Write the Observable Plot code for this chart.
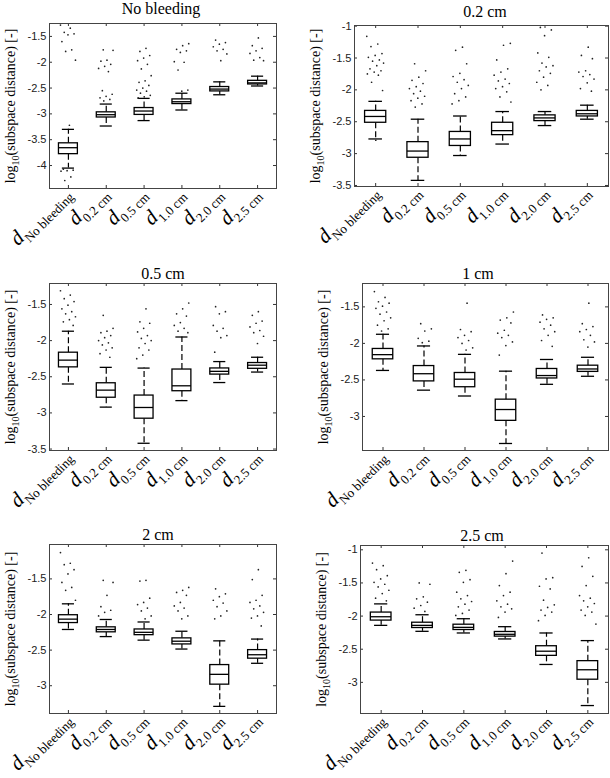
<!DOCTYPE html>
<html><head><meta charset="utf-8">
<script src="https://cdn.jsdelivr.net/npm/d3@7"></script>
<script src="https://cdn.jsdelivr.net/npm/@observablehq/plot@0.6"></script>
<style>
body{margin:0;background:#fff;}
#wrap{position:relative;width:610px;height:778px;overflow:hidden;background:#fff;}
.title{position:absolute;font-family:"Liberation Serif","Times New Roman",serif;font-weight:normal;font-size:16px;line-height:18px;color:#000;transform:translateX(-50%);white-space:nowrap;}
</style></head><body><div id="wrap"></div><script>
// ---- data ----
const cats = ["No bleeding", "0.2 cm", "0.5 cm", "1.0 cm", "2.0 cm", "2.5 cm"];
const titles = ["No bleeding", "0.2 cm", "0.5 cm", "1 cm", "2 cm", "2.5 cm"];
const yLabel = "log10(subspace distance) [-]";
const yTicks = [
  [-4, -3.5, -3, -2.5, -2, -1.5],
  [-3.5, -3, -2.5, -2, -1.5, -1],
  [-3.5, -3, -2.5, -2, -1.5],
  [-3, -2.5, -2, -1.5],
  [-3, -2.5, -2, -1.5],
  [-3, -2.5, -2, -1.5, -1]
];
const yDomains = [
  [-4.445, -1.25], [-3.516, -0.99], [-3.52, -1.21],
  [-3.466, -1.18], [-3.39, -1.017], [-3.47, -0.935]
];
// box statistics, one row per panel, one value per category
const whiskLo = [
  [-4.05, -3.235, -3.13, -2.925, -2.63, -2.46],
  [-2.77, -3.42, -3.03, -2.85, -2.56, -2.46],
  [-2.60, -2.92, -3.42, -2.83, -2.58, -2.435],
  [-2.37, -2.64, -2.72, -3.37, -2.56, -2.45],
  [-2.21, -2.31, -2.36, -2.485, -3.29, -2.685],
  [-2.14, -2.23, -2.255, -2.345, -2.73, -3.35]
];
const q1 = [
  [-3.78, -3.07, -3.02, -2.81, -2.565, -2.43],
  [-2.516, -3.065, -2.88, -2.71, -2.49, -2.417],
  [-2.37, -2.79, -3.08, -2.70, -2.47, -2.39],
  [-2.218, -2.52, -2.60, -3.06, -2.48, -2.39],
  [-2.12, -2.25, -2.29, -2.42, -2.985, -2.62],
  [-2.068, -2.18, -2.21, -2.31, -2.60, -2.96]
];
const medians = [
  [-3.655, -3.016, -2.945, -2.765, -2.52, -2.40],
  [-2.417, -2.96, -2.77, -2.64, -2.44, -2.375],
  [-2.27, -2.685, -2.925, -2.625, -2.425, -2.34],
  [-2.154, -2.415, -2.49, -2.905, -2.44, -2.35],
  [-2.065, -2.21, -2.25, -2.375, -2.84, -2.565],
  [-2.01, -2.14, -2.17, -2.275, -2.53, -2.81]
];
const q3 = [
  [-3.57, -2.97, -2.887, -2.72, -2.48, -2.36],
  [-2.33, -2.82, -2.66, -2.516, -2.40, -2.33],
  [-2.167, -2.59, -2.76, -2.40, -2.385, -2.31],
  [-2.076, -2.31, -2.405, -2.77, -2.35, -2.305],
  [-2.01, -2.18, -2.21, -2.335, -2.71, -2.50],
  [-1.947, -2.10, -2.13, -2.24, -2.455, -2.68]
];
const whiskHi = [
  [-3.30, -2.81, -2.70, -2.60, -2.38, -2.27],
  [-2.18, -2.46, -2.41, -2.34, -2.34, -2.24],
  [-1.87, -2.37, -2.38, -1.95, -2.29, -2.23],
  [-1.875, -2.035, -2.15, -2.38, -2.22, -2.19],
  [-1.85, -2.07, -2.105, -2.235, -2.37, -2.345],
  [-1.816, -1.98, -2.04, -2.16, -2.255, -2.37]
];
// outliers per panel, per category
const out1 = [
  [-1.28, -1.34, -1.42, -1.45, -1.47, -1.6, -1.76, -1.79, -1.96, -3.22, -4.07, -4.09, -4.1, -4.11, -4.22, -4.29],
  [-1.76, -1.77, -1.96, -1.98, -2.04, -2.08, -2.12, -2.18, -2.55, -2.62, -2.66, -2.69, -2.72, -2.75],
  [-1.73, -1.79, -1.87, -1.92, -1.97, -2.04, -2.13, -2.26, -2.36, -2.39, -2.45, -2.5, -2.54, -2.56, -2.6, -2.64, -2.67, -2.69],
  [-1.64, -1.68, -1.75, -1.78, -1.81, -1.99, -2.0, -2.15, -2.54, -2.56],
  [-1.57, -1.62, -1.65, -1.7, -1.75, -1.78, -1.84, -1.97],
  [-1.53, -1.68, -1.73, -1.78, -1.83, -1.91, -1.96, -1.97]
];
const out2 = [
  [-1.16, -1.28, -1.32, -1.43, -1.46, -1.49, -1.53, -1.55, -1.58, -1.62, -1.67, -1.7, -1.72, -1.75, -1.77, -1.88, -2.01, -2.79],
  [-1.59, -1.7, -1.8, -1.85, -1.9, -1.95, -1.98, -2.02, -2.06, -2.1, -2.13, -2.17, -2.22, -2.27],
  [-1.33, -1.38, -1.59, -1.74, -1.79, -1.84, -1.88, -1.93, -1.98, -2.06, -2.11, -2.17, -2.22],
  [-1.27, -1.3, -1.53, -1.67, -1.72, -1.77, -1.83, -1.86, -1.9, -1.95, -1.98, -2.03, -2.11, -2.19],
  [-1.02, -1.06, -1.15, -1.42, -1.49, -1.58, -1.62, -1.64, -1.7, -1.74, -1.8, -1.88, -1.93, -2.0],
  [-1.33, -1.46, -1.51, -1.7, -1.72, -1.76, -1.79, -1.83, -1.89, -1.98, -2.02]
];
const out3 = [
  [-1.31, -1.37, -1.42, -1.46, -1.51, -1.56, -1.6, -1.63, -1.67, -1.71, -1.74, -1.79],
  [-1.65, -1.83, -1.87, -1.89, -1.93, -1.96, -2.0, -2.03, -2.06, -2.1, -2.13, -2.18, -2.23],
  [-1.56, -1.74, -1.76, -1.83, -1.88, -1.93, -1.97, -2.0, -2.04, -2.1, -2.13, -2.2, -2.25],
  [-1.48, -1.56, -1.63, -1.66, -1.75, -1.79, -1.83, -1.87, -1.89],
  [-1.53, -1.6, -1.63, -1.79, -1.83, -1.87, -1.93, -1.96, -2.16],
  [-1.6, -1.65, -1.73, -1.76, -1.81, -1.86, -1.89, -1.94, -2.04]
];
const out4 = [
  [-1.29, -1.37, -1.43, -1.45, -1.49, -1.52, -1.57, -1.6, -1.65, -1.69, -1.75, -1.8, -1.83],
  [-1.73, -1.8, -1.83, -1.93, -1.97, -1.99],
  [-1.45, -1.81, -1.84, -1.89, -1.92, -1.96, -2.0, -2.06, -2.09],
  [-1.57, -1.65, -1.68, -1.72, -1.82, -1.86, -1.89, -1.92, -1.98, -2.03, -2.16],
  [-1.61, -1.65, -1.67, -1.71, -1.75, -1.8, -1.84, -1.89, -1.96, -2.04],
  [-1.45, -1.73, -1.77, -1.81, -1.84, -1.89, -1.95, -1.98, -2.05]
];
const out5 = [
  [-1.13, -1.28, -1.3, -1.37, -1.43, -1.55, -1.62, -1.66, -1.8],
  [-1.52, -1.55, -1.73, -1.89, -1.94, -1.97, -2.02],
  [-1.52, -1.53, -1.77, -1.83, -1.86, -1.91, -1.95, -2.02, -2.06],
  [-1.62, -1.66, -1.69, -1.73, -1.83, -1.88, -1.91, -1.95, -2.02, -2.06],
  [-1.64, -1.71, -1.75, -1.8, -1.84, -1.89, -1.95, -2.02, -2.06],
  [-1.37, -1.51, -1.73, -1.8, -1.83, -1.88, -1.92, -1.97, -2.02, -2.05, -2.16]
];
const out6 = [
  [-1.2, -1.24, -1.3, -1.39, -1.44, -1.49, -1.52, -1.56, -1.61, -1.66, -1.73, -1.77],
  [-1.5, -1.52, -1.71, -1.74, -1.79, -1.84, -1.88, -1.93],
  [-1.31, -1.34, -1.45, -1.49, -1.64, -1.69, -1.74, -1.78, -1.82, -1.86, -1.91, -1.96, -1.99],
  [-1.17, -1.36, -1.54, -1.64, -1.69, -1.77, -1.82, -1.86, -1.89, -1.94, -2.02],
  [-1.05, -1.42, -1.44, -1.55, -1.59, -1.76, -1.83, -1.87, -1.91, -1.94, -1.99, -2.07],
  [-1.12, -1.25, -1.4, -1.54, -1.69, -1.73, -1.77, -1.81, -1.86, -1.91, -1.94, -1.99, -2.12]
];
const outliers = [out1, out2, out3, out4, out5, out6];

// ---- layout (page pixels) ----
const layouts = [
  {left: 0,   top: 0,   w: 305, h: 260, ml: 49, mr: 29, mt: 23, mb: 72, tx: 161, ty: 9},
  {left: 305, top: 0,   w: 305, h: 260, ml: 49, mr: 2,  mt: 25, mb: 74, tx: 485, ty: 12},
  {left: 0,   top: 260, w: 305, h: 260, ml: 49, mr: 29, mt: 23, mb: 70, tx: 163, ty: 274},
  {left: 305, top: 260, w: 305, h: 260, ml: 57, mr: 2,  mt: 23, mb: 70, tx: 478, ty: 274},
  {left: 0,   top: 520, w: 305, h: 258, ml: 49, mr: 29, mt: 24, mb: 65, tx: 158, ty: 535},
  {left: 305, top: 520, w: 305, h: 258, ml: 55, mr: 2,  mt: 25, mb: 65, tx: 482, ty: 536}
];

const serif = "Liberation Serif, Times New Roman, serif";
const sans = "Liberation Sans, Arial, sans-serif";
const wrap = document.getElementById("wrap");
const idx = cats.map((c, i) => i);

layouts.forEach((L, k) => {
  const innerW = L.w - L.ml - L.mr, innerH = L.h - L.mt - L.mb;
  const boxes = cats.map((c, i) => ({i, lo: whiskLo[k][i], q1: q1[k][i], med: medians[k][i], q3: q3[k][i], hi: whiskHi[k][i]}));
  // outlier horizontal spread: deterministic scatter around the category centre
  const pts = cats.flatMap((c, i) => outliers[k][i].map((v, j) => ({x: i + (((j * 0.618034 + i * 0.31) % 1) - 0.5) * 0.42, v})));
  const plot = Plot.plot({
    width: L.w, height: L.h,
    marginLeft: L.ml, marginRight: L.mr, marginTop: L.mt, marginBottom: L.mb,
    style: {background: "transparent", overflow: "visible"},
    x: {domain: [-0.5, cats.length - 0.5], axis: null},
    y: {domain: yDomains[k], axis: null},
    marks: [
      Plot.ruleY(yTicks[k], {y: d => d, insetRight: innerW - 3, stroke: "#333"}),
      Plot.ruleY(yTicks[k], {y: d => d, insetLeft: innerW - 3, stroke: "#333"}),
      Plot.ruleX(idx, {x: d => d, insetBottom: innerH - 3, stroke: "#333"}),
      Plot.ruleX(idx, {x: d => d, insetTop: innerH - 3, stroke: "#333"}),
      Plot.ruleX(boxes, {x: "i", y1: "q3", y2: "hi", stroke: "#000", strokeWidth: 1.2, strokeDasharray: "6,3"}),
      Plot.ruleX(boxes, {x: "i", y1: "q1", y2: "lo", stroke: "#000", strokeWidth: 1.2, strokeDasharray: "6,3"}),
      Plot.ruleY(boxes, {y: "hi", x1: d => d.i - 0.16, x2: d => d.i + 0.16, stroke: "#000", strokeWidth: 1.3}),
      Plot.ruleY(boxes, {y: "lo", x1: d => d.i - 0.16, x2: d => d.i + 0.16, stroke: "#000", strokeWidth: 1.3}),
      Plot.rect(boxes, {x1: d => d.i - 0.25, x2: d => d.i + 0.25, y1: "q1", y2: "q3", fill: "#fff", stroke: "#000", strokeWidth: 1.3}),
      Plot.ruleY(boxes, {y: "med", x1: d => d.i - 0.25, x2: d => d.i + 0.25, stroke: "#000", strokeWidth: 1.3}),
      Plot.dot(pts, {x: "x", y: "v", r: 0.85, fill: "#222", stroke: null}),
      Plot.frame({stroke: "#444", strokeWidth: 1}),
      Plot.axisY({ticks: yTicks[k], tickSize: 0, tickPadding: 3, tickFormat: d => String(d), fontSize: 11, fontFamily: sans, fill: "#222",
        label: yLabel, labelAnchor: "center", labelOffset: 44}),
      Plot.axisX({ticks: idx, tickSize: 0, tickPadding: 3, tickRotate: -45, tickFormat: i => "d|" + cats[i], label: null, fontFamily: serif, fill: "#000"})
    ]
  });
  const svg = plot;
  svg.style.position = "absolute";
  svg.style.left = L.left + "px";
  svg.style.top = L.top + "px";
  // x tick labels: italic d with subscript
  d3.select(svg).selectAll('g[aria-label="x-axis tick label"] text').each(function () {
    const sub = this.textContent.split("|")[1];
    const t = d3.select(this);
    t.text(null);
    t.append("tspan").style("font-family", serif).style("font-style", "italic").style("font-size", "21px").text("d");
    t.append("tspan").style("font-family", serif).style("font-size", "13px").attr("dy", "0.45em").text(sub);
  });
  // y label with subscript 10
  d3.select(svg).selectAll('g[aria-label="y-axis label"] text').each(function () {
    const t = d3.select(this);
    t.text(null).style("font-family", serif).style("font-size", "14px").attr("fill", "#000");
    t.append("tspan").text("log");
    t.append("tspan").style("font-size", "10px").attr("dy", "0.35em").text("10");
    t.append("tspan").attr("dy", "-0.25em").text("(subspace distance) [-]");
  });
  wrap.appendChild(svg);
  const title = document.createElement("div");
  title.className = "title";
  title.textContent = titles[k];
  title.style.left = L.tx + "px";
  title.style.top = (L.ty - 9) + "px";
  wrap.appendChild(title);
});
</script></body></html>
